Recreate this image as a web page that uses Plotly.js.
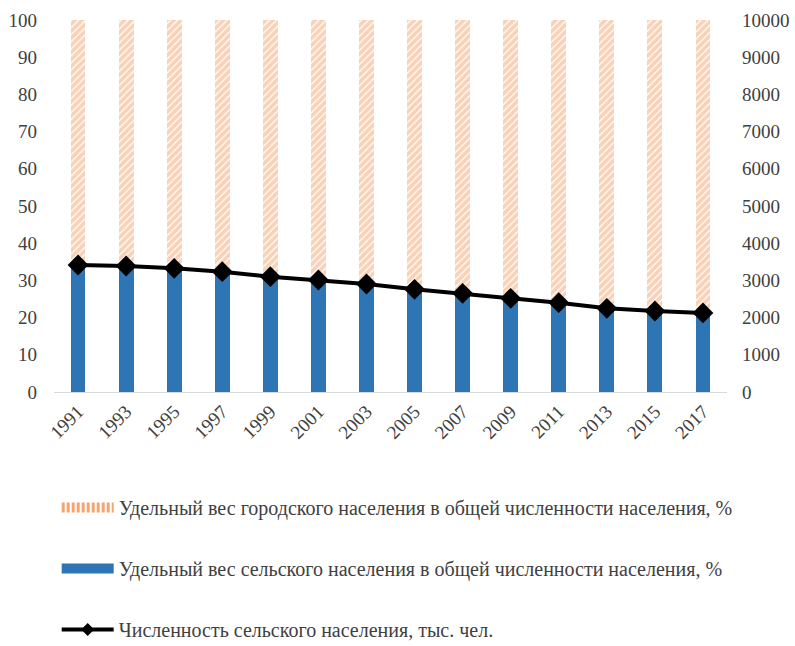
<!DOCTYPE html>
<html>
<head>
<meta charset="utf-8">
<script src="https://cdn.plot.ly/plotly-3.0.1.min.js"></script>
<style>html,body{margin:0;padding:0;background:#fff;}#chart{width:795px;height:646px;}</style>
</head>
<body>
<div id="chart"></div>
<script>
const years = ['1991','1993','1995','1997','1999','2001','2003','2005','2007','2009','2011','2013','2015','2017'];
const ruralShare = [34.4, 34.0, 33.5, 32.8, 31.5, 30.6, 29.4, 28.1, 27.1, 25.8, 24.6, 23.2, 22.4, 21.8];
const urbanShare = ruralShare.map(v => +(100 - v).toFixed(1));
const ruralPop = [3414, 3387, 3325, 3234, 3100, 3011, 2903, 2760, 2652, 2518, 2401, 2249, 2177, 2125];

const FAM = 'Liberation Serif, Times New Roman, serif';
const font = {family: FAM, color: '#404040', size: 19};
const ORANGE = '#F4A46E';
const BLUE = '#2E75B6';

const traces = [
  {
    type: 'bar', x: years, y: ruralShare,
    name: 'Удельный вес сельского населения в общей численности населения, %',
    marker: {color: BLUE}, showlegend: false
  },
  {
    type: 'bar', x: years, y: urbanShare,
    name: 'Удельный вес городского населения в общей численности населения, %',
    marker: {color: '#ffffff', pattern: {shape: '/', fgcolor: ORANGE, bgcolor: '#ffffff', size: 5, solidity: 0.75, fillmode: 'overlay'}},
    showlegend: false
  },
  {
    type: 'scatter', mode: 'lines+markers', x: years, y: ruralPop, yaxis: 'y2',
    name: 'Численность сельского населения, тыс. чел.',
    line: {color: '#000000', width: 4},
    marker: {symbol: 'diamond', size: 16, color: '#000000'},
    showlegend: false
  },
  // legend entries
  {
    type: 'scatter', mode: 'lines', x: [null], y: [null],
    name: 'Удельный вес городского населения в общей численности населения, %',
    line: {color: ORANGE, width: 10, dash: '3px,2px'},
    legendgroup: 'a', legendrank: 1, hoverinfo: 'skip'
  },
  {
    type: 'scatter', mode: 'lines', x: [null], y: [null],
    name: 'Удельный вес сельского населения в общей численности населения, %',
    line: {color: BLUE, width: 10},
    legendgroup: 'b', legendrank: 2, hoverinfo: 'skip'
  },
  {
    type: 'scatter', mode: 'lines+markers', x: [null], y: [null],
    name: 'Численность сельского населения, тыс. чел.',
    line: {color: '#000000', width: 4},
    marker: {symbol: 'diamond', size: 10, color: '#000000'},
    legendgroup: 'c', legendrank: 3, hoverinfo: 'skip'
  }
];

const layout = {
  width: 795, height: 646,
  margin: {l: 54, r: 68, t: 20, b: 254, autoexpand: false},
  paper_bgcolor: '#ffffff', plot_bgcolor: '#ffffff',
  font: font,
  barmode: 'stack',
  bargap: 0.69,
  showlegend: true,
  legend: {
    x: 0.004, y: -0.258, xanchor: 'left', yanchor: 'top',
    orientation: 'v', traceorder: 'grouped', tracegroupgap: 32,
    font: {family: FAM, color: '#404040', size: 20},
    itemwidth: 52
  },
  xaxis: {
    type: 'category', tickangle: -45, range: [-0.5, 13.5], automargin: false,
    showgrid: false, zeroline: false,
    showline: true, linecolor: '#d9d9d9', linewidth: 1,
    ticks: '', tickfont: {family: FAM, size: 19, color: '#404040'}
  },
  yaxis: {
    range: [0, 100], dtick: 10, showgrid: false, zeroline: false, automargin: false,
    showline: false, ticks: '', ticklabelstandoff: 16,
    tickfont: {family: FAM, size: 19, color: '#404040'}
  },
  yaxis2: {
    range: [0, 10000], dtick: 1000, overlaying: 'y', side: 'right', automargin: false,
    tickformat: 'd', ticklabelstandoff: 14,
    showgrid: false, zeroline: false, showline: false, ticks: '',
    tickfont: {family: FAM, size: 19, color: '#404040'}
  }
};

Plotly.newPlot('chart', traces, layout, {displayModeBar: false, staticPlot: true});
</script>
</body>
</html>
